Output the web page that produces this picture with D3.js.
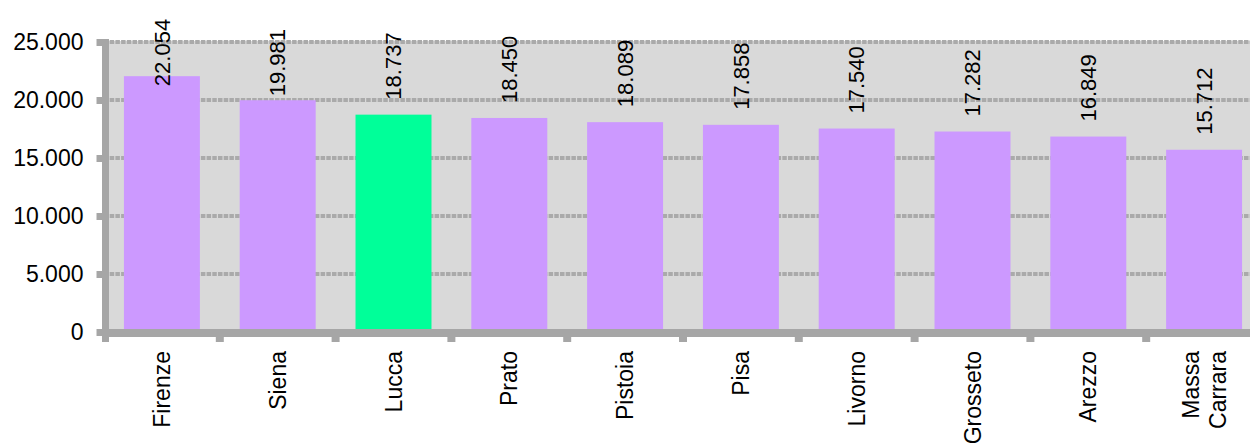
<!DOCTYPE html>
<html>
<head>
<meta charset="utf-8">
<script src="https://cdn.jsdelivr.net/npm/d3@7"></script>
<style>
  html, body { margin: 0; padding: 0; background: #fff; overflow: hidden; }
  svg { display: block; font-family: "Liberation Sans", Arial, sans-serif; }
</style>
</head>
<body>
<svg id="chart" width="1250" height="443"></svg>
<script>
// Provinces of Tuscany and their values
const categories = ["Firenze", "Siena", "Lucca", "Prato", "Pistoia", "Pisa", "Livorno", "Grosseto", "Arezzo", "Massa Carrara"];
const values = [22054, 19981, 18737, 18450, 18089, 17858, 17540, 17282, 16849, 15712];
const highlighted = ["Lucca"];
const yTicks = [0, 5000, 10000, 15000, 20000, 25000];

const svg = d3.select("#chart");

const locale = d3.formatLocale({ decimal: ",", thousands: ".", grouping: [3], currency: ["€", ""] });
const fmt = locale.format(",d");

const x0 = 104, x1 = 1262;
const x = d3.scaleBand().domain(categories).range([x0, x1]).paddingInner(0.344).paddingOuter(0.172);
const y = d3.scaleLinear().domain([0, 25000]).range([332, 42]);

const axisColor = "#a6a6a6";
const axisFont = 23;
const valueFont = 22;

// plot background
svg.append("rect")
  .attr("x", x0).attr("y", y(25000) - 1)
  .attr("width", x1 - x0).attr("height", y(0) - y(25000) + 1)
  .attr("fill", "#d9d9d9");

// horizontal gridlines
svg.append("g").selectAll("line")
  .data(yTicks.filter(d => d > 0))
  .join("line")
  .attr("x1", x0).attr("x2", x1)
  .attr("y1", d => y(d)).attr("y2", d => y(d))
  .attr("stroke", "#aaaaaa").attr("stroke-width", 4)
  .attr("stroke-dasharray", "4.5 1.2");

// bars
svg.append("g").selectAll("rect")
  .data(categories)
  .join("rect")
  .attr("x", d => x(d))
  .attr("y", (d, i) => y(values[i]))
  .attr("width", x.bandwidth())
  .attr("height", (d, i) => y(0) - y(values[i]))
  .attr("fill", d => highlighted.includes(d) ? "#00ff99" : "#cc99ff");

// y axis: labels and tick stubs
const yAxis = svg.append("g")
  .attr("transform", `translate(${x0 + 1.5},0)`)
  .call(d3.axisLeft(y).tickValues(yTicks).tickFormat(fmt).tickSize(9).tickPadding(13));
yAxis.select(".domain").remove();
yAxis.selectAll(".tick line").attr("stroke", axisColor).attr("stroke-width", 7);
yAxis.selectAll(".tick text")
  .attr("fill", "#000").attr("font-size", axisFont)
  .attr("font-family", "Liberation Sans, Arial, sans-serif");

// axis lines
svg.append("line")
  .attr("x1", x0 + 1.5).attr("x2", x0 + 1.5)
  .attr("y1", y(25000) - 3).attr("y2", y(0) + 10)
  .attr("stroke", axisColor).attr("stroke-width", 7);
svg.append("line")
  .attr("x1", x0 - 2).attr("x2", x1)
  .attr("y1", y(0) + 1).attr("y2", y(0) + 1)
  .attr("stroke", axisColor).attr("stroke-width", 8);

// x axis category labels
const xAxis = svg.append("g")
  .attr("transform", `translate(0,${y(0) + 19})`)
  .call(d3.axisBottom(x).tickSize(0).tickPadding(0));
xAxis.select(".domain").remove();
xAxis.selectAll(".tick text").each(function(d) {
  const t = d3.select(this);
  t.text(null)
    .attr("transform", "rotate(-90)")
    .attr("text-anchor", "end")
    .attr("x", 0).attr("y", 0).attr("dy", null)
    .attr("fill", "#000").attr("font-size", axisFont)
    .attr("font-family", "Liberation Sans, Arial, sans-serif");
  const words = d.split(" ");
  const lineH = 27;
  words.forEach((w, k) => {
    t.append("tspan")
      .attr("x", 0)
      .attr("y", (k - (words.length - 1) / 2) * lineH)
      .attr("dy", "0.35em")
      .text(w);
  });
});

// x tick stubs at category boundaries
const gap = x.step() - x.bandwidth();
svg.append("g").selectAll("line")
  .data(categories.slice(1))
  .join("line")
  .attr("x1", d => x(d) - gap / 2)
  .attr("x2", d => x(d) - gap / 2)
  .attr("y1", y(0) + 4).attr("y2", y(0) + 10)
  .attr("stroke", axisColor).attr("stroke-width", 8);

// value labels above bars
const labelNudge = { "Firenze": 25, "Siena": 11 };
svg.append("g").selectAll("text")
  .data(categories)
  .join("text")
  .attr("transform", (d, i) => {
    const cx = x(d) + x.bandwidth() / 2;
    const by = y(values[i]) - 15 + (labelNudge[d] || 0);
    return `translate(${cx},${by}) rotate(-90)`;
  })
  .attr("text-anchor", "start")
  .attr("dy", "0.35em")
  .attr("font-size", valueFont)
  .attr("fill", "#000")
  .text((d, i) => fmt(values[i]));
</script>
</body>
</html>
